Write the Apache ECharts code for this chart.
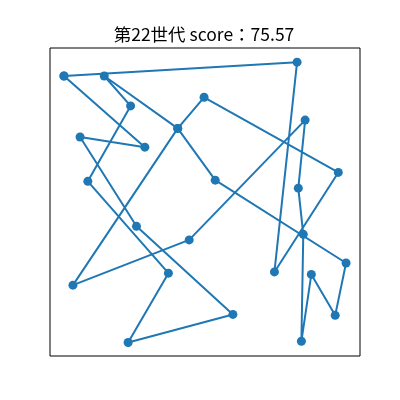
<!DOCTYPE html>
<html>
<head>
<meta charset="utf-8">
<script src="https://cdn.jsdelivr.net/npm/echarts@6/dist/echarts.min.js"></script>
<style>html,body{margin:0;padding:0;background:#fff;}#chart{width:400px;height:400px;}</style>
</head>
<body>
<div id="chart"></div>
<script>
const titleText = '第22世代 score：75.57';
// Route through the cities, in visiting order (closed tour)
const routeX = [4.5, 30.6, 9.7, 27.9, 59.0, 25.2, 38.2, 12.2, 26.0, 17.5, 41.2, 53.3, 95.5, 92.0, 84.3, 81.1, 81.7, 80.1, 82.3, 44.9, 7.4, 41.2, 49.7, 93.0, 72.4, 79.7, 4.5];
const routeY = [90.9, 67.8, 71.1, 42.1, 13.5, 4.4, 26.9, 56.7, 81.2, 90.9, 73.9, 57.1, 30.2, 13.2, 26.5, 4.8, 39.5, 54.5, 76.6, 37.7, 23.0, 73.9, 84.0, 59.6, 27.3, 95.4, 90.9];

const pts = routeX.map((x, i) => [x, routeY[i]]);
const chart = echarts.init(document.getElementById('chart'), null, {renderer: 'canvas'});
chart.setOption({
  animation: false,
  backgroundColor: '#ffffff',
  graphic: [{
    type: 'text', x: 204, y: 34,
    style: {text: titleText, textAlign: 'center', textVerticalAlign: 'middle',
            font: '17.5px "Noto Sans CJK JP"', fill: '#000'}
  }],
  grid: {left: 50, right: 40, top: 48, bottom: 44, show: true, borderColor: '#000', borderWidth: 1, backgroundColor: 'transparent'},
  xAxis: {type: 'value', min: 0, max: 100, show: false},
  yAxis: {type: 'value', min: 0, max: 100, show: false},
  series: [{
    type: 'line',
    data: pts,
    symbol: 'circle',
    symbolSize: 9,
    showSymbol: true,
    lineStyle: {color: '#1f77b4', width: 2},
    itemStyle: {color: '#1f77b4', borderWidth: 0},
    z: 3
  }]
});
</script>
</body>
</html>
